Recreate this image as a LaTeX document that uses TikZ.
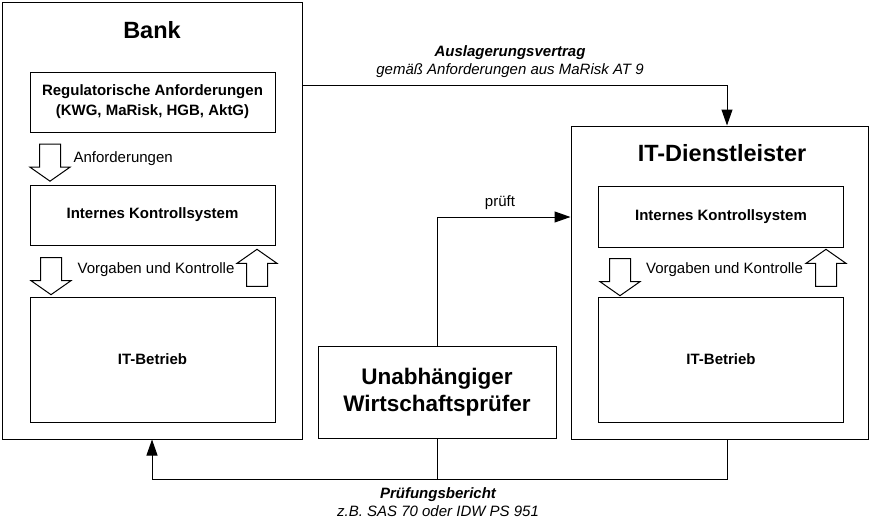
\documentclass[tikz,border=0pt]{standalone}
\usepackage{fontspec}
\setmainfont{Liberation Sans}
\usetikzlibrary{positioning, shapes.arrows, arrows.meta}
\tikzset{every node/.style={inner sep=0pt, font=\fontsize{15}{18}\selectfont}}

\begin{document}
\begin{tikzpicture}[x=1pt, y=-1pt, line width=1pt,
    company/.style={draw, align=center},
    box/.style={draw, minimum width=245pt, align=center,
        font=\fontsize{15}{20}\selectfont\bfseries},
    title/.style={font=\fontsize{23.5}{27}\selectfont\bfseries},
    hollow/.style={single arrow, draw, inner sep=10pt, minimum height=37pt, minimum width=39pt,
        single arrow head extend=9.5pt, single arrow tip angle=110},
    conn/.style={-{Triangle[length=16pt, width=11pt]}},
    note/.style={align=center, font=\fontsize{15}{18}\selectfont\itshape}]

    \useasboundingbox (0,0) rectangle (871,520);

    % Bank
    \node[company, minimum width=300pt, minimum height=437pt] (bank) at (152,220.5) {};
    \node[title] (banktitle) at (152,30) {Bank};
    \node[box, minimum height=60pt] (bankreg) at (152.5,102)
        {Regulatorische Anforderungen\\(KWG, MaRisk, HGB, AktG)};
    \node[hollow, shape border rotate=270] (bankdown1) at (50,159) {};
    \node (bankanf) [right=12pt of bankdown1] {Anforderungen};
    \node[box, minimum height=60pt] (bankiks) at (152.5,215) {Internes Kontrollsystem};
    \node[hollow, shape border rotate=270] (bankdown2) at (51,272.5) {};
    \node[hollow, shape border rotate=90] (bankup) at (257,271.5) {};
    \node (bankvk) at (156,270) {Vorgaben und Kontrolle};
    \node[box, minimum height=125pt] (bankit) at (152.5,359.5) {IT-Betrieb};

    % IT-Dienstleister
    \node[company, minimum width=297pt, minimum height=313pt] (dl) at (719.5,282.5) {};
    \node[title] (dltitle) at (722,153) {IT-Dienstleister};
    \node[box, minimum height=61pt] (dliks) at (721,216.5) {Internes Kontrollsystem};
    \node[hollow, shape border rotate=270] (dldown) at (620,273.5) {};
    \node[hollow, shape border rotate=90] (dlup) at (826,271.5) {};
    \node (dlvk) at (724.5,270) {Vorgaben und Kontrolle};
    \node[box, minimum height=125pt] (dlit) at (721,359.5) {IT-Betrieb};

    % Wirtschaftspruefer
    \node[company, font=\fontsize{22.5}{27}\selectfont\bfseries,
        minimum width=238pt, minimum height=92pt] (wp) at (437,392)
        {Unabhängiger\\Wirtschaftsprüfer};

    % Connectors
    \coordinate (vertrag) at (727,85);
    \coordinate (pruef) at (437,217);
    \coordinate (bericht) at (727,479);

    \draw[conn] (bank.east |- vertrag) -| (dl.north -| vertrag);
    \node[note] (vertraglabel) at (510,62)
        {\textbf{Auslagerungsvertrag}\\gemäß Anforderungen aus MaRisk AT 9};

    \draw[conn] (wp.north) |- (dl.west |- pruef);
    \node (prueflabel) at (500,203) {prüft};

    \draw (wp.south) -- (wp.south |- bericht);
    \draw[conn] (dl.south -| bericht) -- (bericht) -| (bank.south);
    \node[note] (berichtlabel) at (438,502)
        {\textbf{Prüfungsbericht}\\z.B. SAS 70 oder IDW PS 951};

\end{tikzpicture}
\end{document}
